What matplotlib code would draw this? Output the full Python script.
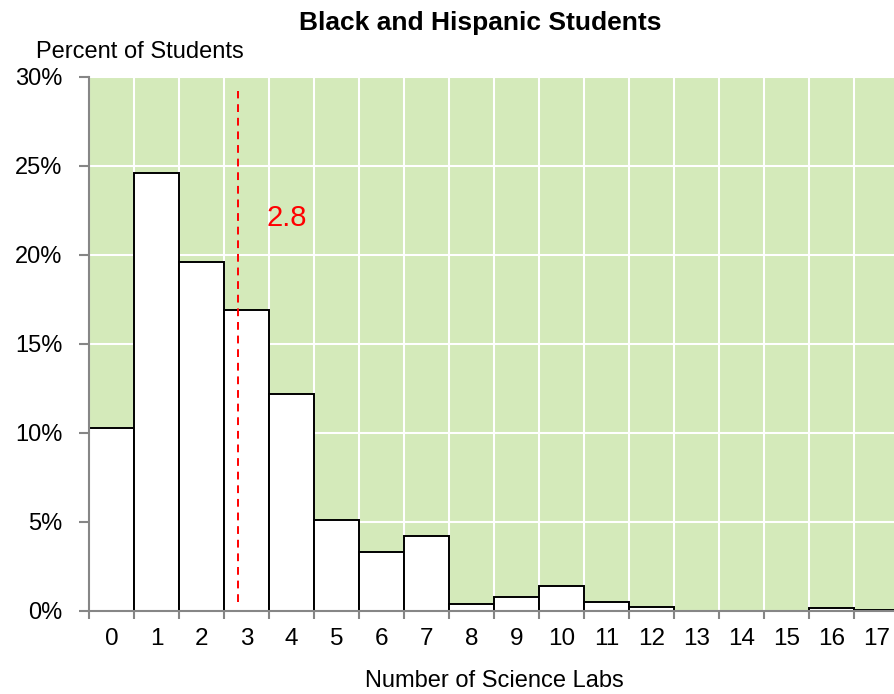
import numpy as np
import matplotlib
matplotlib.use("Agg")
import matplotlib.pyplot as plt

plt.rcParams['font.family'] = ['Liberation Sans', 'DejaVu Sans']

# share of students by number of science labs taken
labs = list(range(18))
pct = [10.3, 24.6, 19.6, 16.9, 12.2, 5.1, 3.3, 4.2, 0.4, 0.8,
       1.4, 0.5, 0.25, 0.0, 0.0, 0.0, 0.15, 0.07]
mean_labs = 2.8

green = '#d4eaba'
grey = '#868686'

fig = plt.figure(figsize=(8.94, 6.94), dpi=100)
ax = fig.add_axes([0.0996, 0.1196, 0.906, 0.7695])
ax.set_facecolor(green)

x = np.array(labs)
ax.bar(x, pct, width=1.0, color='white', edgecolor='black', linewidth=1.4, zorder=3)

# mean marker
ax.plot([mean_labs, mean_labs], [0.5, 29.2], color='#ff0000', linestyle=(0, (4, 3)),
        linewidth=1.4, zorder=4)
ax.text(mean_labs + 0.65, 22.1, f'{mean_labs:.1f}', color='#ff0000', fontsize=21,
        va='center', ha='left', zorder=5)

ax.set_xlim(-0.5, 17.5)
ax.set_ylim(0, 30)

# white grid at category boundaries and every 5%
ax.set_xticks(np.arange(-0.5, 18, 1))
ax.set_xticklabels([])
ax.set_xticks(x, minor=True)
ax.set_xticklabels([str(v) for v in labs], minor=True, fontsize=17.5)
ax.tick_params(axis='x', which='minor', length=0, pad=12)
ax.tick_params(axis='x', which='major', length=6, width=1.5, color=grey, direction='out')
ax.set_yticks(np.arange(0, 31, 5))
ax.set_yticklabels([f'{v}%' for v in range(0, 31, 5)], fontsize=17)
ax.tick_params(axis='y', length=7, width=1.5, color=grey, direction='out', pad=12)
ax.grid(True, which='major', color='white', linewidth=1.5, zorder=1)
ax.set_axisbelow(True)

for side in ['top', 'right']:
    ax.spines[side].set_visible(False)
for side in ['left', 'bottom']:
    ax.spines[side].set_color(grey)
    ax.spines[side].set_linewidth(1.5)
    ax.spines[side].set_zorder(6)

ax.set_xlabel('Number of Science Labs', fontsize=17, labelpad=15)
fig.text(0.157, 0.925, 'Percent of Students', fontsize=17, ha='center', va='center')
fig.text(0.537, 0.967, 'Black and Hispanic Students', fontsize=19, fontweight='bold',
         ha='center', va='center')

fig.savefig('out.png', dpi=100)
